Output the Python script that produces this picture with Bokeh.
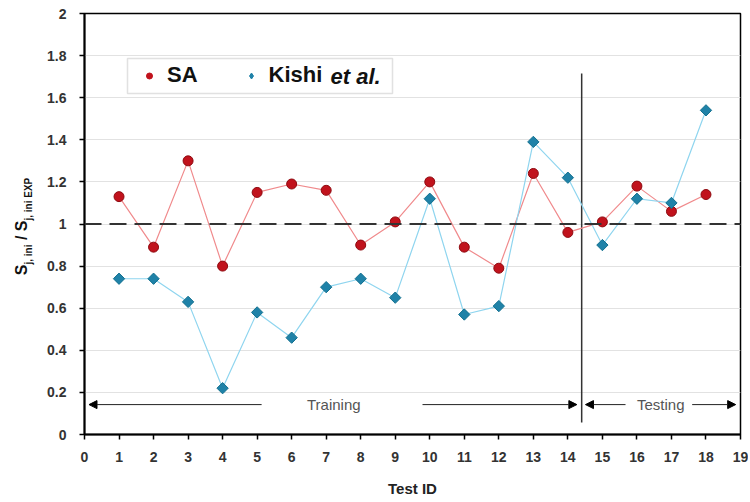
from bokeh.plotting import figure
from bokeh.layouts import row
from bokeh.models import (FixedTicker, Span, Arrow, NormalHead, Label, Legend,
                          LegendItem, BoxAnnotation, Range1d)
from bokeh.embed import file_html
from bokeh.resources import INLINE

# ---- data ----
test_id = list(range(1, 19))
sa = [1.13, 0.89, 1.30, 0.80, 1.15, 1.19, 1.16, 0.90, 1.01,
      1.20, 0.89, 0.79, 1.24, 0.96, 1.01, 1.18, 1.06, 1.14]
kishi = [0.74, 0.74, 0.63, 0.22, 0.58, 0.46, 0.70, 0.74, 0.65,
         1.12, 0.57, 0.61, 1.39, 1.22, 0.90, 1.12, 1.10, 1.54]
series_names = ["SA", "Kishi"]
x_ticks = list(range(0, 20))
y_ticks = [0, 0.2, 0.4, 0.6, 0.8, 1, 1.2, 1.4, 1.6, 1.8, 2]
y_tick_labels = ["0", "0.2", "0.4", "0.6", "0.8", "1", "1.2", "1.4", "1.6", "1.8", "2"]
split_x = 14.4
phase_labels = ["Training", "Testing"]

FONT = "Liberation Sans"
H = 502
LEFT_W = 40

# ---- narrow panel holding the rotated y-axis title ----
# (its frame is aligned with the main chart's frame by the row layout)
lab = figure(width=LEFT_W, height=H, output_backend="svg", toolbar_location=None,
             x_range=Range1d(0, LEFT_W), y_range=Range1d(0, 421),
             x_axis_type=None, y_axis_type=None, min_border=0)
lab.outline_line_color = None
lab.grid.visible = False
lab.background_fill_color = "white"
lab.border_fill_color = "white"
ylabel_parts = [("S", "16px", 21, 159.3), ("j, ini", "10px", 28, 170.0),
                ("/", "16px", 21, 194.4), ("S", "16px", 21, 203.3),
                ("j, ini EXP", "10px", 28, 214.0)]
for txt, fs, xx, yy in ylabel_parts:
    lab.add_layout(Label(x=xx, y=yy, x_units="screen", y_units="screen", text=txt,
                         text_font=FONT, text_font_size=fs, text_font_style="bold",
                         text_color="#111111", angle=1.5707963, text_align="left",
                         text_baseline="alphabetic"))

# ---- main chart ----
p = figure(width=748 - LEFT_W, height=H, output_backend="svg", toolbar_location=None,
           x_range=Range1d(0, 19), y_range=Range1d(0, 2),
           min_border_left=84 - LEFT_W, min_border_right=8,
           min_border_top=13, min_border_bottom=H - 434)
p.background_fill_color = "white"
p.border_fill_color = "white"
p.outline_line_color = "black"
p.outline_line_width = 1.5
p.xgrid.visible = False
p.ygrid.grid_line_color = "#e2e2e2"
p.ygrid.grid_line_width = 1

p.xaxis.ticker = FixedTicker(ticks=x_ticks)
p.yaxis.ticker = FixedTicker(ticks=y_ticks)
p.yaxis.major_label_overrides = {t: l for t, l in zip(y_ticks, y_tick_labels)}
for ax in (p.xaxis[0], p.yaxis[0]):
    ax.axis_line_color = "black"
    ax.axis_line_width = 2
    ax.major_tick_in = 0
    ax.major_tick_out = 5
    ax.major_tick_line_color = "black"
    ax.major_tick_line_width = 1.5
    ax.minor_tick_line_color = None
    ax.major_label_text_font = FONT
    ax.major_label_text_font_size = "14px"
    ax.major_label_text_font_style = "bold"
    ax.major_label_text_color = "#333333"
p.yaxis.major_label_standoff = 13
p.xaxis.major_label_standoff = 12
p.xaxis.axis_label = "Test ID"
p.xaxis.axis_label_text_font = FONT
p.xaxis.axis_label_text_font_size = "15px"
p.xaxis.axis_label_text_font_style = "bold"
p.xaxis.axis_label_text_color = "#222222"
p.xaxis.axis_label_standoff = 15

# reference line at ratio 1
p.add_layout(Span(location=1, dimension="width", line_color="#333333",
                  line_width=2, line_dash="17 8"))

# training / testing split
p.segment(x0=[split_x], y0=[0.057], x1=[split_x], y1=[1.715],
          line_color="#333333", line_width=1.5)

# series
p.line(test_id, sa, line_color="#f08a8c", line_width=1.2)
sa_pts = p.scatter(test_id, sa, marker="circle", size=10,
                   fill_color="#c1121c", line_color="#8e0a10", line_width=1)
p.line(test_id, kishi, line_color="#8fd5ef", line_width=1.2)
ki_pts = p.scatter(test_id, kishi, marker="square", angle=0.785398, size=8,
                   fill_color="#1f82a8", line_color="#12708f", line_width=1)
# small copies used only for the legend swatches
sa_leg = p.scatter(test_id, sa, marker="circle", size=6, visible=False,
                   fill_color="#c1121c", line_color="#c1121c")
ki_leg = p.scatter(test_id, kishi, marker="diamond", size=8,
                   visible=False, fill_color="#1f82a8", line_color="#1f82a8")

# phase arrows and labels
arrow_y = 0.142
for xs, xe in [(5.13, 0.13), (9.79, 14.26), (15.67, 14.51), (17.6, 18.86)]:
    p.add_layout(Arrow(end=NormalHead(size=8, fill_color="black", line_color="black"),
                       x_start=xs, y_start=arrow_y, x_end=xe, y_end=arrow_y,
                       line_color="#222222", line_width=1))
for txt, xc in zip(phase_labels, [7.22, 16.69]):
    p.add_layout(Label(x=xc, y=arrow_y, text=txt, text_font=FONT,
                       text_font_size="15px", text_color="#555555",
                       text_align="center", text_baseline="middle"))

# legend
p.add_layout(BoxAnnotation(left=43, right=308, bottom=341, top=376,
                           left_units="screen", right_units="screen",
                           bottom_units="screen", top_units="screen",
                           fill_color="white", fill_alpha=1,
                           line_color="#9a9a9a", line_width=1.5))
legend = Legend(items=[LegendItem(label=series_names[0], renderers=[sa_leg]),
                       LegendItem(label=series_names[1], renderers=[ki_leg])],
                orientation="horizontal", location=(43, 341), padding=5,
                spacing=36, glyph_width=34, glyph_height=15, label_standoff=1,
                label_text_font=FONT, label_text_font_size="22px",
                label_text_font_style="bold", label_text_color="#111111",
                border_line_alpha=0, background_fill_alpha=0, margin=0,
                inactive_fill_alpha=0)
p.add_layout(legend)
p.add_layout(Label(x=246, y=358.5, x_units="screen", y_units="screen",
                   text="et al.", text_font=FONT, text_font_size="22px",
                   text_font_style="bold italic", text_color="#111111",
                   text_align="left", text_baseline="middle"))

layout = row(lab, p, spacing=0)
open("out.html", "w").write(file_html(layout, INLINE))
